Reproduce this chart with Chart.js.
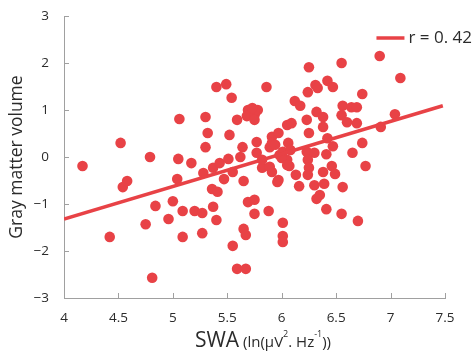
<!DOCTYPE html>
<html lang="en">
  <head>
    <meta charset="UTF-8" />
    <title>SWA vs gray matter volume</title>
    <script src="https://cdn.jsdelivr.net/npm/chart.js"></script>
    <style>
      html, body { margin: 0; padding: 0; background: #fff; }
      #wrap { width: 475px; height: 354px; }
    </style>
  </head>
  <body>
    <div id="wrap"><canvas id="scatter" width="475" height="354"></canvas></div>

    <script>
      // values
      const swa = [4.17,4.52,4.54,4.58,4.42,4.75,4.79,4.81,4.84,4.96,
        5.00,5.04,5.05,5.06,5.09,5.09,5.17,5.20,5.27,5.27,
        5.28,5.30,5.32,5.30,5.37,5.36,5.41,5.37,5.40,5.40,
        5.49,5.54,5.43,5.51,5.47,5.52,5.59,5.55,5.62,5.64,
        5.65,5.55,5.59,5.67,5.65,5.67,5.69,5.75,5.75,5.69,
        5.68,5.75,5.75,5.78,5.77,5.77,5.82,5.82,5.86,5.73,
        5.91,5.97,5.91,5.89,5.88,5.91,5.96,5.97,5.98,6.01,
        6.01,6.01,6.01,6.05,6.09,6.06,6.07,6.12,6.17,6.13,
        6.16,6.23,6.24,6.25,6.25,6.23,6.30,6.24,6.25,6.24,
        6.30,6.31,6.33,6.32,6.38,6.38,6.42,6.42,6.47,6.55,
        6.38,6.39,6.46,6.49,6.41,6.47,6.35,6.32,6.41,6.55,
        6.56,6.56,6.64,6.69,6.55,6.60,6.69,6.74,6.74,6.65,
        6.77,6.70,6.90,7.09,7.04,6.91,5.94,6.05,6.00,6.05,
        5.89,6.08];
      const gmv = [-0.19,0.30,-0.64,-0.51,-1.70,-1.43,0.00,-2.57,-1.04,-1.32,
        -0.94,-0.47,-0.04,0.81,-1.15,-1.70,-0.13,-1.15,-1.19,-1.62,
        -0.34,0.85,0.51,0.21,-0.23,-0.68,-0.74,-1.06,-1.34,1.49,
        1.55,1.26,-0.13,-0.04,-0.47,0.47,0.79,-0.32,0.00,0.21,
        -0.51,-1.89,-2.38,-2.38,-1.53,-1.66,-0.96,-0.91,-1.21,1.00,
        0.87,0.89,0.79,1.00,0.32,0.09,-0.23,-0.06,1.49,1.04,
        0.43,0.51,0.30,0.21,-1.15,-0.32,-0.53,-0.49,0.04,0.11,
        -1.40,-1.68,-1.81,0.68,0.72,0.30,-0.19,1.19,1.09,-0.38,
        -0.62,0.79,1.38,1.91,0.51,0.11,0.09,-0.06,-0.23,-0.38,
        -0.60,1.53,1.47,0.96,0.85,0.64,0.40,1.62,1.49,2.00,
        -0.32,-0.57,-0.19,-0.36,0.06,0.23,-0.81,-0.89,-1.11,-1.21,
        -0.64,1.09,1.06,1.06,0.89,0.74,0.72,1.34,0.30,0.09,
        -0.19,-1.36,2.15,1.68,0.91,0.64,0.26,-0.06,-0.02,-0.17,
        -0.21,0.15];

      // fitted line end points
      const fitX = [4, 7.48];
      const fitY = [-1.32, 1.09];
      const fitLabel = "r = 0. 42";

      const xTicks = [4, 4.5, 5, 5.5, 6, 6.5, 7, 7.5];
      const yTicks = [-3, -2, -1, 0, 1, 2, 3];

      const red = "rgb(232, 66, 70)";
      const axisGrey = "#a0a0a0";
      const textCol = "#2b2b2b";
      const fontFam = "'Open Sans', 'DejaVu Sans', sans-serif";

      const points = swa.map((v, i) => ({ x: v, y: gmv[i] }));
      const fitPoints = fitX.map((v, i) => ({ x: v, y: fitY[i] }));

      // ticks point inward, so draw them ourselves; also the x title and legend
      const extras = {
        id: "extras",
        afterDraw(chart) {
          const ctx = chart.ctx;
          const xs = chart.scales.x;
          const ys = chart.scales.y;
          const area = chart.chartArea;
          ctx.save();
          ctx.strokeStyle = axisGrey;
          ctx.lineWidth = 1;
          ctx.beginPath();
          xTicks.forEach((t) => {
            const px = Math.round(xs.getPixelForValue(t)) + 0.5;
            ctx.moveTo(px, area.bottom);
            ctx.lineTo(px, area.bottom - 5);
          });
          yTicks.forEach((t) => {
            const py = Math.round(ys.getPixelForValue(t)) + 0.5;
            ctx.moveTo(area.left, py);
            ctx.lineTo(area.left + 5, py);
          });
          ctx.stroke();

          // x axis title with mixed sizes
          const parts = [
            { t: "SWA", size: 21, dy: 0 },
            { t: " (ln(\u03bcV", size: 15, dy: 0 },
            { t: "2", size: 9, dy: -10 },
            { t: ". ", size: 15, dy: 0 },
            { t: "Hz", size: 15, dy: 0 },
            { t: "-1", size: 9, dy: -10 },
            { t: "))", size: 15, dy: 0 },
          ];
          ctx.fillStyle = textCol;
          ctx.textBaseline = "alphabetic";
          ctx.textAlign = "left";
          let total = 0;
          parts.forEach((p) => {
            ctx.font = p.size + "px " + fontFam;
            p.w = ctx.measureText(p.t).width;
            total += p.w;
          });
          let cx = 263 - total / 2;
          const base = 347;
          parts.forEach((p) => {
            ctx.font = p.size + "px " + fontFam;
            ctx.fillText(p.t, cx, base + p.dy);
            cx += p.w;
          });

          // legend
          ctx.font = "17px " + fontFam;
          const tw = ctx.measureText(fitLabel).width;
          const tx = chart.width - 3 - tw;
          const ly = 38;
          ctx.strokeStyle = red;
          ctx.lineWidth = 3.5;
          ctx.beginPath();
          ctx.moveTo(tx - 32, ly);
          ctx.lineTo(tx - 4, ly);
          ctx.stroke();
          ctx.textBaseline = "middle";
          ctx.fillText(fitLabel, tx, ly);
          ctx.restore();
        },
      };

      new Chart(document.getElementById("scatter"), {
        type: "scatter",
        data: {
          datasets: [
            {
              label: "subjects",
              data: points,
              backgroundColor: red,
              borderWidth: 0,
              pointRadius: 5.3,
              pointHoverRadius: 5.3,
              order: 2,
            },
            {
              type: "line",
              label: fitLabel,
              data: fitPoints,
              borderColor: red,
              borderWidth: 3.5,
              pointRadius: 0,
              fill: false,
              order: 1,
            },
          ],
        },
        options: {
          responsive: false,
          animation: false,
          events: [],
          layout: { padding: { top: 16, right: 30, left: 7, bottom: 0 } },
          plugins: { legend: { display: false }, tooltip: { enabled: false } },
          scales: {
            x: {
              type: "linear",
              min: 4,
              max: 7.5,
              afterBuildTicks: (s) => { s.ticks = xTicks.map((v) => ({ value: v })); },
              afterFit: (s) => { s.height = 56; },
              grid: { display: false },
              border: { display: true, color: axisGrey, width: 1 },
              ticks: {
                padding: 4,
                color: textCol,
                font: { family: fontFam, size: 13.5 },
                callback: (v) => String(v),
              },
            },
            y: {
              type: "linear",
              min: -3,
              max: 3,
              afterBuildTicks: (s) => { s.ticks = yTicks.map((v) => ({ value: v })); },
              afterFit: (s) => { s.width = 57; },
              grid: { display: false },
              border: { display: true, color: axisGrey, width: 1 },
              title: {
                display: true,
                text: "Gray matter volume",
                color: textCol,
                font: { family: fontFam, size: 17.5 },
                padding: { top: 0, bottom: 0 },
              },
              ticks: {
                padding: 7,
                color: textCol,
                font: { family: fontFam, size: 13.5 },
                callback: (v) => String(v).replace("-", "\u2212"),
              },
            },
          },
        },
        plugins: [extras],
      });
    </script>
  </body>
</html>
